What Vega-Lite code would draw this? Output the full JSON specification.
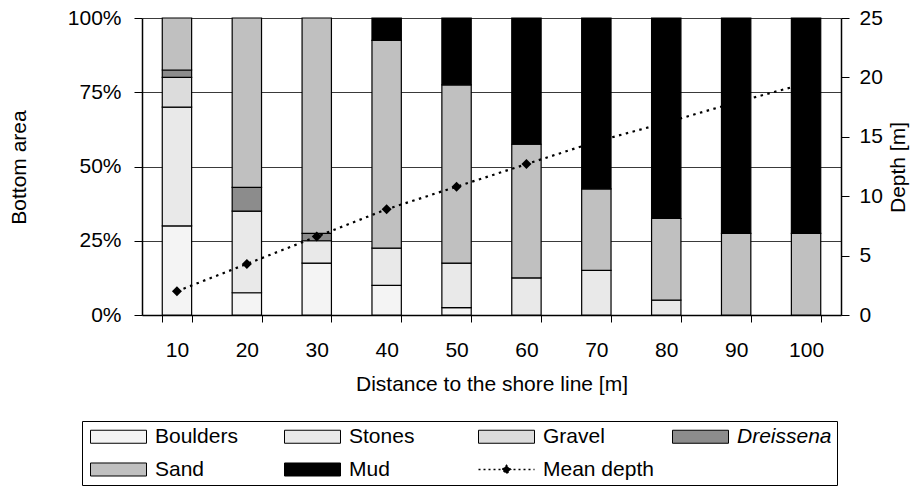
{
  "$schema": "https://vega.github.io/schema/vega-lite/v6.json",
  "width": 699,
  "height": 297,
  "autosize": {"type": "none"},
  "padding": {"left": 142, "top": 18, "right": 83, "bottom": 173},
  "background": "white",
  "config": {
    "view": {"stroke": null},
    "font": "Liberation Sans",
    "axis": {
      "labelFont": "Liberation Sans",
      "titleFont": "Liberation Sans",
      "labelFontSize": 21,
      "titleFontSize": 21,
      "titleFontWeight": "normal",
      "labelColor": "black",
      "titleColor": "black",
      "domainColor": "black",
      "domainWidth": 1.5,
      "tickColor": "black",
      "tickWidth": 1
    }
  },
  "layer": [
    {
      "data": {
        "values": [
          {"dist": 10, "type": "Boulders", "ord": 1, "pct": 30},
          {"dist": 10, "type": "Stones", "ord": 2, "pct": 40},
          {"dist": 10, "type": "Gravel", "ord": 3, "pct": 10},
          {"dist": 10, "type": "Dreissena", "ord": 4, "pct": 2.5},
          {"dist": 10, "type": "Sand", "ord": 5, "pct": 17.5},
          {"dist": 20, "type": "Boulders", "ord": 1, "pct": 7.5},
          {"dist": 20, "type": "Stones", "ord": 2, "pct": 27.5},
          {"dist": 20, "type": "Dreissena", "ord": 4, "pct": 8},
          {"dist": 20, "type": "Sand", "ord": 5, "pct": 57},
          {"dist": 30, "type": "Boulders", "ord": 1, "pct": 17.5},
          {"dist": 30, "type": "Stones", "ord": 2, "pct": 7.5},
          {"dist": 30, "type": "Dreissena", "ord": 4, "pct": 2.5},
          {"dist": 30, "type": "Sand", "ord": 5, "pct": 72.5},
          {"dist": 40, "type": "Boulders", "ord": 1, "pct": 10},
          {"dist": 40, "type": "Stones", "ord": 2, "pct": 12.5},
          {"dist": 40, "type": "Sand", "ord": 5, "pct": 70},
          {"dist": 40, "type": "Mud", "ord": 6, "pct": 7.5},
          {"dist": 50, "type": "Boulders", "ord": 1, "pct": 2.5},
          {"dist": 50, "type": "Stones", "ord": 2, "pct": 15},
          {"dist": 50, "type": "Sand", "ord": 5, "pct": 60},
          {"dist": 50, "type": "Mud", "ord": 6, "pct": 22.5},
          {"dist": 60, "type": "Stones", "ord": 2, "pct": 12.5},
          {"dist": 60, "type": "Sand", "ord": 5, "pct": 45},
          {"dist": 60, "type": "Mud", "ord": 6, "pct": 42.5},
          {"dist": 70, "type": "Stones", "ord": 2, "pct": 15},
          {"dist": 70, "type": "Sand", "ord": 5, "pct": 27.5},
          {"dist": 70, "type": "Mud", "ord": 6, "pct": 57.5},
          {"dist": 80, "type": "Stones", "ord": 2, "pct": 5},
          {"dist": 80, "type": "Sand", "ord": 5, "pct": 27.5},
          {"dist": 80, "type": "Mud", "ord": 6, "pct": 67.5},
          {"dist": 90, "type": "Sand", "ord": 5, "pct": 27.5},
          {"dist": 90, "type": "Mud", "ord": 6, "pct": 72.5},
          {"dist": 100, "type": "Sand", "ord": 5, "pct": 27.5},
          {"dist": 100, "type": "Mud", "ord": 6, "pct": 72.5}
        ]
      },
      "mark": {"type": "bar", "stroke": "black", "strokeWidth": 1.2},
      "encoding": {
        "x": {
          "field": "dist",
          "type": "ordinal",
          "scale": {"paddingInner": 0.58, "paddingOuter": 0.29},
          "axis": {
            "title": "Distance to the shore line [m]",
            "labelAngle": 0,
            "tickBand": "extent",
            "tickSize": 7,
            "labelPadding": 17,
            "titlePadding": 13,
            "grid": false
          }
        },
        "y": {
          "field": "pct",
          "type": "quantitative",
          "stack": "zero",
          "scale": {"domain": [0, 100], "nice": false},
          "axis": {
            "title": "Bottom area",
            "values": [0, 25, 50, 75, 100],
            "labelExpr": "datum.value + '%'",
            "grid": true,
            "gridColor": "#3a3a3a",
            "gridWidth": 1,
            "tickSize": 8,
            "labelPadding": 13,
            "titleAngle": -90,
            "titleBaseline": "alphabetic",
            "titleX": -117,
            "titleY": 149,
            "titleAlign": "center"
          }
        },
        "order": {"field": "ord", "type": "quantitative"},
        "color": {
          "field": "type",
          "type": "nominal",
          "scale": {
            "domain": ["Boulders", "Stones", "Gravel", "Dreissena", "Sand", "Mud", "Mean depth"],
            "range": ["#f4f4f4", "#e9e9e9", "#dcdcdc", "#8c8c8c", "#c0c0c0", "#000000", "#000000"]
          },
          "legend": {
            "title": null,
            "orient": "none",
            "legendX": -60,
            "legendY": 403,
            "direction": "horizontal",
            "columns": 4,
            "gridAlign": "all",
            "columnPadding": 15,
            "rowPadding": 11,
            "padding": 5,
            "strokeColor": "black",
            "fillColor": "white",
            "symbolType": "M-1,-0.93H7V0.93H-1Z",
            "symbolSize": 196,
            "symbolStrokeColor": "black",
            "symbolStrokeWidth": 1,
            "symbolOpacity": 1,
            "labelFont": "Liberation Sans",
            "labelFontSize": 21,
            "labelColor": "black",
            "labelOffset": 47,
            "labelLimit": 300,
            "encode": {
              "symbols": {
                "update": {
                  "shape": {"signal": "datum.value === 'Mean depth' ? 'M-1,0H7M2.4,0L3,-0.6L3.6,0L3,0.6Z' : 'M-1,-0.93H7V0.93H-1Z'"},
                  "stroke": {"value": "black"},
                  "strokeWidth": {"signal": "datum.value === 'Mean depth' ? 1.5 : 1"},
                  "strokeDash": {"signal": "datum.value === 'Mean depth' ? [2, 3] : []"}
                }
              },
              "labels": {
                "update": {
                  "fontStyle": {"signal": "datum.value === 'Dreissena' ? 'italic' : 'normal'"}
                }
              }
            }
          }
        }
      }
    },
    {
      "data": {
        "values": [
          {"dist": 10, "depth": 2.0},
          {"dist": 20, "depth": 4.3},
          {"dist": 30, "depth": 6.6},
          {"dist": 40, "depth": 8.9},
          {"dist": 50, "depth": 10.8},
          {"dist": 60, "depth": 12.7},
          {"dist": 70, "depth": 14.6},
          {"dist": 80, "depth": 16.2},
          {"dist": 90, "depth": 17.9},
          {"dist": 100, "depth": 19.5}
        ]
      },
      "mark": {
        "type": "line",
        "color": "black",
        "strokeWidth": 2.2,
        "strokeDash": [2.5, 4.5],
        "point": {"shape": "diamond", "size": 100, "filled": true, "color": "black"}
      },
      "encoding": {
        "x": {"field": "dist", "type": "ordinal"},
        "y": {
          "field": "depth",
          "type": "quantitative",
          "scale": {"domain": [0, 25], "nice": false},
          "axis": {
            "orient": "right",
            "title": "Depth [m]",
            "values": [0, 5, 10, 15, 20, 25],
            "grid": false,
            "tickSize": 8,
            "labelPadding": 10,
            "titleAngle": -90,
            "titleBaseline": "alphabetic",
            "titleX": 63,
            "titleY": 149,
            "titleAlign": "center"
          }
        }
      }
    }
  ],
  "resolve": {"scale": {"y": "independent"}}
}
